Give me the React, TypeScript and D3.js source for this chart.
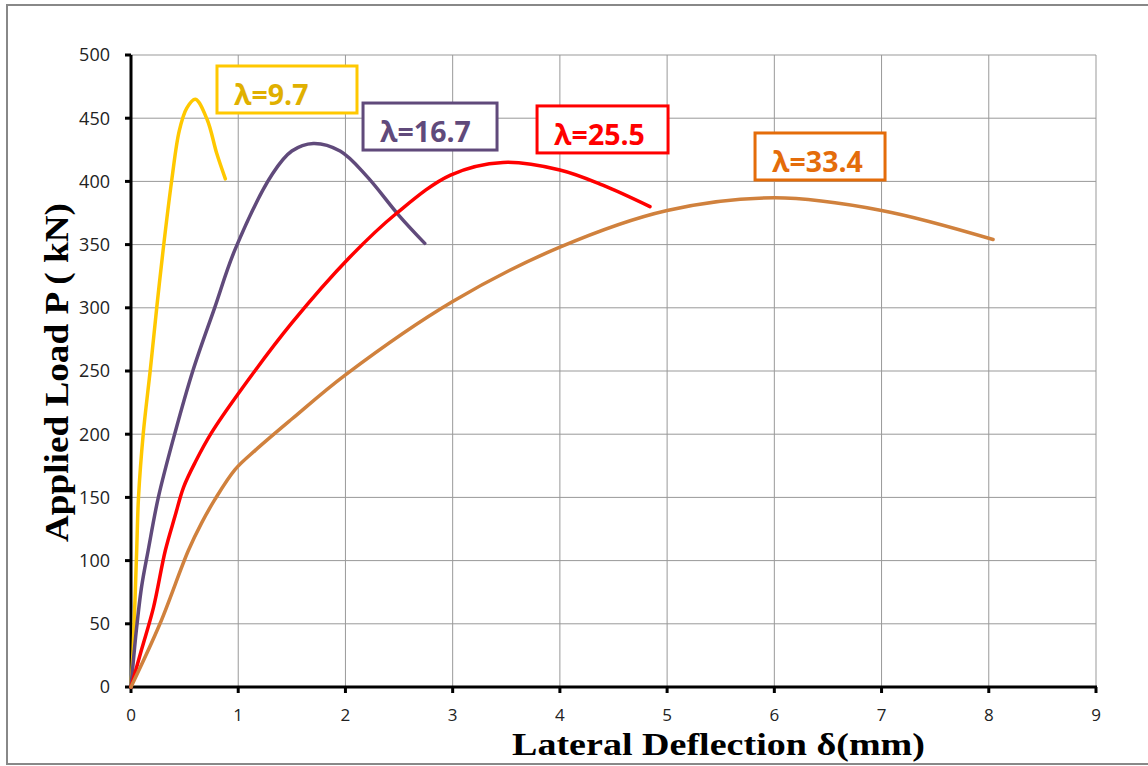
import React from "react";
import * as d3 from "d3";

const xTicks = [0, 1, 2, 3, 4, 5, 6, 7, 8, 9];
const yTicks = [0, 50, 100, 150, 200, 250, 300, 350, 400, 450, 500];

const s97x = [0, 0.02, 0.053, 0.07, 0.115, 0.18, 0.24, 0.30, 0.38, 0.45, 0.52, 0.6, 0.71, 0.8, 0.88];
const s97y = [0, 30, 108, 150, 201, 251, 300, 346, 401, 440, 458, 465, 449, 422, 402];

const s167x = [0, 0.05, 0.1, 0.16, 0.255, 0.41, 0.58, 0.78, 0.97, 1.32, 1.5, 1.7, 1.95, 2.2, 2.5, 2.74];
const s167y = [0, 45, 80, 108, 150, 201, 251, 300, 346, 406, 424, 430, 424, 404, 373, 351];

const s255x = [0, 0.1, 0.21, 0.32, 0.41, 0.49, 0.6, 0.75, 1.0, 1.5, 2.04, 2.48, 2.98, 3.47, 4.0, 4.4, 4.84];
const s255y = [0, 30, 63, 108, 135, 158, 178, 201, 232, 288, 340, 375, 405, 415, 409, 397, 380];

const s334x = [0, 0.27, 0.535, 0.66, 0.78, 0.97, 1.156, 1.5, 2, 3, 4, 5, 6, 7, 8.04];
const s334y = [0, 50, 108, 130, 148, 172, 187, 212, 247, 305, 348, 377, 387, 377, 354];

const seriesNames = ["λ=9.7", "λ=16.7", "λ=25.5", "λ=33.4"];
const lineColors = ["#FFC800", "#604A7B", "#FF0000", "#D0813D"];
const boxColors = ["#FFC800", "#604A7B", "#FF0000", "#E46C0A"];
const textColors = ["#E0B000", "#604A7B", "#FF0000", "#E46C0A"];
// label box top-left in data units
const labelX = [0.802, 2.164, 3.787, 5.82];
const labelY = [491.3, 462, 459.7, 438.3];
const labelW = [140, 134, 131, 130];

export default function App() {
  const W = 1148, H = 766;
  const x = d3.scaleLinear().domain([0, 9]).range([131, 1096]);
  const y = d3.scaleLinear().domain([0, 500]).range([687, 55]);
  const line = d3.line<[number, number]>().x(d => x(d[0])).y(d => y(d[1])).curve(d3.curveCatmullRom.alpha(0.5));
  const series = [
    d3.zip(s97x, s97y),
    d3.zip(s167x, s167y),
    d3.zip(s255x, s255y),
    d3.zip(s334x, s334y),
  ] as [number, number][][];
  const tickFont = "'Open Sans', 'Liberation Sans', sans-serif";
  const serif = "'Liberation Serif', 'Times New Roman', serif";
  return (
    <svg width={W} height={H} style={{ position: "absolute", left: 0, top: 0 }}>
      <rect x={0} y={0} width={W} height={H} fill="#fff" />
      <rect x={7} y={5} width={W + 10} height={759} fill="none" stroke="#888" strokeWidth={2} />
      {yTicks.slice(1).map(t => (
        <line key={"gy" + t} x1={x(0)} x2={x(9)} y1={y(t)} y2={y(t)} stroke="#999" strokeWidth={1} />
      ))}
      {xTicks.slice(1).map(t => (
        <line key={"gx" + t} x1={x(t)} x2={x(t)} y1={y(0)} y2={y(500)} stroke="#999" strokeWidth={1} />
      ))}
      <line x1={x(0)} x2={x(0)} y1={y(0) + 1} y2={y(500)} stroke="#000" strokeWidth={3} />
      <line x1={x(0) - 1} x2={x(9) + 1} y1={y(0)} y2={y(0)} stroke="#000" strokeWidth={3} />
      {yTicks.map(t => (
        <g key={"yt" + t}>
          <line x1={x(0) - 6} x2={x(0)} y1={y(t)} y2={y(t)} stroke="#000" strokeWidth={3} />
          <text x={110} y={y(t)} dy="0.36em" textAnchor="end" fontFamily={tickFont} fontSize={18} fill="#222">{t}</text>
        </g>
      ))}
      {xTicks.map(t => (
        <g key={"xt" + t}>
          <line x1={x(t)} x2={x(t)} y1={y(0)} y2={y(0) + 6} stroke="#000" strokeWidth={3} />
          <text x={x(t)} y={715} dy="0.36em" textAnchor="middle" fontFamily={tickFont} fontSize={17} fill="#222">{t}</text>
        </g>
      ))}
      {series.map((s, i) => (
        <path key={"s" + i} d={line(s) || ""} fill="none" stroke={lineColors[i]} strokeWidth={3.5} strokeLinecap="round" />
      ))}
      {seriesNames.map((n, i) => {
        const bx = x(labelX[i]);
        const by = y(labelY[i]);
        return (
          <g key={"l" + i}>
            <rect x={bx} y={by} width={labelW[i]} height={47} fill="#fff" stroke={boxColors[i]} strokeWidth={3} />
            <text x={bx + 17} y={by + 39} fontFamily="'Open Sans', 'Liberation Sans', sans-serif" fontWeight="bold" fontSize={28.5} fill={textColors[i]}>{n}</text>
          </g>
        );
      })}
      <text x={718.5} y={755} textAnchor="middle" fontFamily={serif} fontWeight="bold" fontSize={32} textLength={413} lengthAdjust="spacingAndGlyphs" fill="#000">Lateral Deflection δ(mm)</text>
      <text transform={`translate(68,372.5) rotate(-90)`} textAnchor="middle" fontFamily={serif} fontWeight="bold" fontSize={33} textLength={339} lengthAdjust="spacingAndGlyphs" fill="#000">Applied Load P  ( kN)</text>
    </svg>
  );
}
